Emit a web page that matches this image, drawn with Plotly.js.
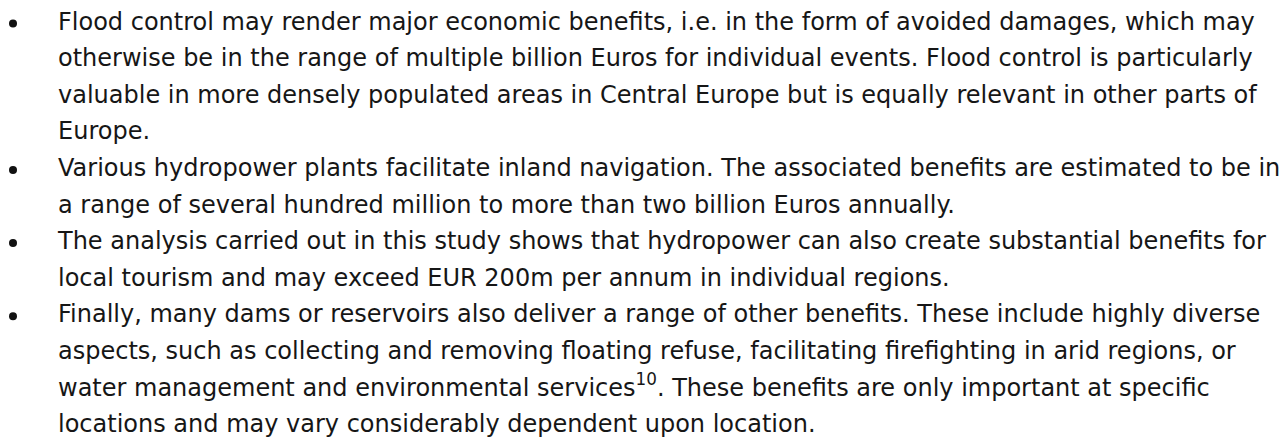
<!DOCTYPE html>
<html>
<head>
<meta charset="utf-8">
<script src="https://cdn.plot.ly/plotly-3.0.1.min.js"></script>
<style>html,body{margin:0;padding:0;background:#fff;}#chart{width:1285px;height:445px;}</style>
</head>
<body>
<div id="chart"></div>
<script>
// Bullet paragraphs, one array of wrapped lines per bullet
const bullet1 = [
  "Flood control may render major economic benefits, i.e. in the form of avoided damages, which may",
  "otherwise be in the range of multiple billion Euros for individual events. Flood control is particularly",
  "valuable in more densely populated areas in Central Europe but is equally relevant in other parts of",
  "Europe."
];
const bullet2 = [
  "Various hydropower plants facilitate inland navigation. The associated benefits are estimated to be in",
  "a range of several hundred million to more than two billion Euros annually."
];
const bullet3 = [
  "The analysis carried out in this study shows that hydropower can also create substantial benefits for",
  "local tourism and may exceed EUR 200m per annum in individual regions."
];
const bullet4 = [
  "Finally, many dams or reservoirs also deliver a range of other benefits. These include highly diverse",
  "aspects, such as collecting and removing floating refuse, facilitating firefighting in arid regions, or",
  "water management and environmental services<sup>10</sup>. These benefits are only important at specific",
  "locations and may vary considerably dependent upon location."
];
const bullets = [bullet1, bullet2, bullet3, bullet4];

// Build line rows: text lines at column 1, bullet markers at column 0
const lineText = [], lineRow = [], lineCol = [];
const dotRow = [], dotCol = [];
let row = 0;
bullets.forEach(par => {
  dotRow.push(row); dotCol.push(0);
  par.forEach(t => { lineText.push(t); lineRow.push(row); lineCol.push(1); row++; });
});

const FONT = "Verdana, 'DejaVu Sans', sans-serif";
const traces = [
  {
    type: 'scatter', mode: 'text',
    x: lineCol, y: lineRow, text: lineText,
    textposition: 'middle right',
    textfont: {family: FONT, size: 24, color: '#161616'},
    hoverinfo: 'skip', showlegend: false, cliponaxis: false
  },
  {
    type: 'scatter', mode: 'markers',
    x: dotCol, y: dotRow,
    marker: {symbol: 'circle', size: 8, color: '#111'},
    hoverinfo: 'skip', showlegend: false, cliponaxis: false
  }
];

// pixel mapping: column 0 -> 13px, column 1 -> 58px; row i -> 23.5 + 36.6*i px
const W = 1285, H = 445;
const x0 = 13, dx = 45, y0 = 23.5, dy = 36.6;
const layout = {
  width: W, height: H,
  margin: {l: 0, r: 0, t: 0, b: 0},
  paper_bgcolor: '#fff', plot_bgcolor: '#fff',
  xaxis: {range: [-x0 / dx, (W - x0) / dx], visible: false, fixedrange: true},
  yaxis: {range: [(H - y0) / dy, -y0 / dy], visible: false, fixedrange: true},
  showlegend: false
};
Plotly.newPlot('chart', traces, layout, {displayModeBar: false, staticPlot: true});
</script>
</body>
</html>
